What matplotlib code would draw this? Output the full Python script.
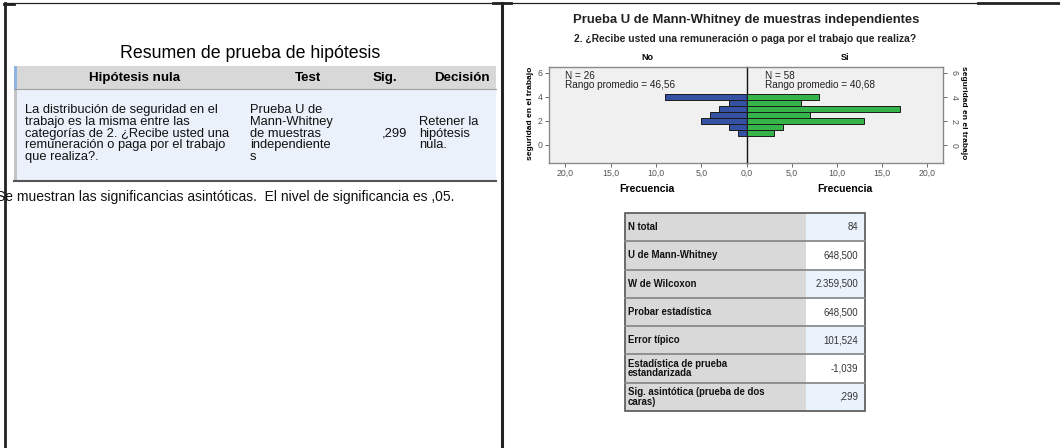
import matplotlib
matplotlib.use('Agg')
import matplotlib.pyplot as plt
from matplotlib.patches import Rectangle

plt.rcParams['font.family'] = ['Liberation Sans', 'DejaVu Sans']

W, H = 1060, 448

# hypothesis summary table
summary_title = 'Resumen de prueba de hipótesis'
summary_headers = ['Hipótesis nula', 'Test', 'Sig.', 'Decisión']
hyp_lines = ['La distribución de seguridad en el',
             'trabajo es la misma entre las',
             'categorías de 2. ¿Recibe usted una',
             'remuneración o paga por el trabajo',
             'que realiza?.']
test_lines = ['Prueba U de', 'Mann-Whitney', 'de muestras', 'independiente', 's']
sig_value = ',299'
decision_lines = ['Retener la', 'hipótesis', 'nula.']
footnote = 'Se muestran las significancias asintóticas.  El nivel de significancia es ,05.'

# population pyramid
chart_title = 'Prueba U de Mann-Whitney de muestras independientes'
chart_subtitle = '2. ¿Recibe usted una remuneración o paga por el trabajo que realiza?'
groups = ['No', 'Si']
score_bins = [4.0, 3.5, 3.0, 2.5, 2.0, 1.5, 1.0]
freq_no = [9, 2, 3, 4, 5, 2, 1]
freq_si = [8, 6, 17, 7, 13, 4, 3]
n_no, rank_no = 26, '46,56'
n_si, rank_si = 58, '40,68'
x_ticks = [0, 5, 10, 15, 20]
y_ticks = [0, 2, 4, 6]
y_label = 'seguridad en el trabajo'

# test statistics
stat_labels = ['N total', 'U de Mann-Whitney', 'W de Wilcoxon', 'Probar estadística',
               'Error típico', 'Estadística de prueba\nestandarizada',
               'Sig. asintótica (prueba de dos\ncaras)']
stat_values = ['84', '648,500', '2.359,500', '648,500', '101,524', '-1,039', ',299']


def fig_rect(x0, y0, x1, y1):
    return [x0 / W, 1 - y1 / H, (x1 - x0) / W, (y1 - y0) / H]


fig = plt.figure(figsize=(W / 100, H / 100), dpi=100)
bg = fig.add_axes([0, 0, 1, 1])
bg.set_xlim(0, W)
bg.set_ylim(H, 0)
bg.axis('off')

# page frame
bg.plot([5, 978], [2.7, 2.7], color='#222222', lw=0.9)
bg.plot([978, W], [3, 3], color='#222222', lw=2)
bg.plot([5, 5], [3, H], color='#222222', lw=2)
bg.plot([4, 14], [4, 4], color='#222222', lw=2)
bg.plot([501.5, 501.5], [3, H], color='#222222', lw=2.2)
bg.plot([493, 511], [3.5, 3.5], color='#222222', lw=2)

# left table
body_fs = 9.3
bg.text(250, 53, summary_title, fontsize=12.8, ha='center', va='center')
bg.add_patch(Rectangle((14, 66), 482, 23, fc='#d8d8d8', ec='none'))
bg.add_patch(Rectangle((14, 66), 2.5, 23, fc='#8fb4e0', ec='none'))
bg.add_patch(Rectangle((14, 89), 482, 92, fc='#eaf1fa', ec='none'))
bg.add_patch(Rectangle((14, 89), 2.5, 92, fc='#c4c4c4', ec='none'))
bg.plot([14, 496], [89, 89], color='#a0a0a0', lw=0.8)
bg.plot([14, 496], [181, 181], color='#555555', lw=1.5)
for label, xc in zip(summary_headers, [135, 308, 385, 462]):
    bg.text(xc, 78, label, fontsize=9.6, fontweight='bold', ha='center', va='center')
line_y = [110 + 11.8 * i for i in range(5)]
for i, ln in enumerate(hyp_lines):
    bg.text(25, line_y[i], ln, fontsize=body_fs, ha='left', va='center', color='#111111')
for i, ln in enumerate(test_lines):
    bg.text(250, line_y[i], ln, fontsize=body_fs, ha='left', va='center', color='#111111')
bg.text(407, line_y[2], sig_value, fontsize=body_fs, ha='right', va='center', color='#111111')
for i, ln in enumerate(decision_lines):
    bg.text(419, line_y[i + 1], ln, fontsize=body_fs, ha='left', va='center', color='#111111')
bg.text(-4, 197, footnote, fontsize=10, ha='left', va='center', color='#111111')

# chart headings
bg.text(746, 20, chart_title, fontsize=9.4, ha='center', va='center', fontweight='bold',
        color='#222222')
bg.text(745, 39, chart_subtitle, fontsize=7.4, ha='center', va='center', fontweight='bold',
        color='#222222')
bg.text(647, 58, groups[0], fontsize=6.5, ha='center', va='center', fontweight='bold')
bg.text(845, 58, groups[1], fontsize=6.5, ha='center', va='center', fontweight='bold')
bg.text(647, 189, 'Frecuencia', fontsize=7.6, ha='center', va='center', fontweight='bold')
bg.text(845, 189, 'Frecuencia', fontsize=7.6, ha='center', va='center', fontweight='bold')
bg.text(530, 113, y_label, fontsize=6, ha='center', va='center', fontweight='bold',
        rotation=90)
bg.text(963, 113, y_label, fontsize=6, ha='center', va='center', fontweight='bold',
        rotation=-90)

# stats table
stat_fs = 6.9
row_top = [213 + 28.3 * i for i in range(len(stat_labels) + 1)]
for i, (lab, val) in enumerate(zip(stat_labels, stat_values)):
    y0, y1 = row_top[i], row_top[i + 1]
    bg.add_patch(Rectangle((625, y0), 181, y1 - y0, fc='#d9d9d9', ec='none'))
    bg.add_patch(Rectangle((806, y0), 59, y1 - y0,
                           fc='#eaf2fb' if i % 2 == 0 else 'white', ec='none'))
    yc = (y0 + y1) / 2
    bg.text(628, yc, lab, fontsize=stat_fs, fontweight='bold', ha='left', va='center',
            linespacing=0.9, color='#111111')
    bg.text(858, yc, val, fontsize=stat_fs, ha='right', va='center', color='#333333')
for y in row_top[1:-1]:
    bg.plot([625, 865], [y, y], color='#8a8a8a', lw=1.3)
bg.add_patch(Rectangle((625, 213), 240, row_top[-1] - 213, fc='none', ec='#555555', lw=1.2))

# pyramid axes
xmax = 21.8
ax_l = fig.add_axes(fig_rect(549, 67, 746.7, 163))
ax_r = fig.add_axes(fig_rect(746.7, 67, 943.3, 163))
for ax, freqs, color in [(ax_l, freq_no, '#3551a4'), (ax_r, freq_si, '#35b44a')]:
    ax.set_facecolor('#f0f0f0')
    ax.barh(score_bins, freqs, height=0.5, color=color, edgecolor='#1a1a1a', lw=0.7,
            zorder=3)
    ax.set_ylim(-1.5, 6.5)
    ax.set_yticks(y_ticks)
    for s in ax.spines.values():
        s.set_color('#8a8a8a')
        s.set_linewidth(1.0)
    ax.tick_params(colors='#555555', labelsize=6.3, length=3, width=0.6, pad=1.5)

ax_l.set_xlim(xmax, 0)
ax_l.set_xticks(x_ticks[::-1])
ax_l.set_xticklabels(['%d,0' % v for v in x_ticks[::-1]])
ax_l.spines['right'].set_visible(False)
ax_l.set_yticklabels([str(v) for v in y_ticks])

ax_r.set_xlim(0, xmax)
ax_r.set_xticks(x_ticks[1:])
ax_r.set_xticklabels(['%d,0' % v for v in x_ticks[1:]])
ax_r.spines['left'].set_color('#111111')
ax_r.spines['left'].set_linewidth(1.0)
ax_r.yaxis.tick_right()
ax_r.set_yticklabels([str(v) for v in y_ticks], rotation=-90, va='center')

ax_l.text(20, 5.35, 'N = %d\nRango promedio = %s' % (n_no, rank_no), fontsize=7.2,
          ha='left', va='center', linespacing=0.9, color='#222222')
ax_r.text(2.0, 5.35, 'N = %d\nRango promedio = %s' % (n_si, rank_si), fontsize=7.2,
          ha='left', va='center', linespacing=0.9, color='#222222')

fig.savefig('out.png', dpi=100)
